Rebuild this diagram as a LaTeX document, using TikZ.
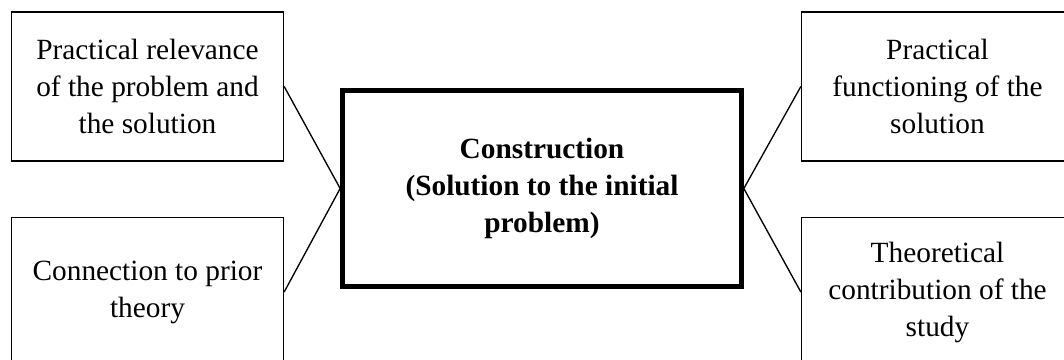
\documentclass[tikz,border=0pt]{standalone}
\usepackage{fontspec}
\setmainfont{Liberation Serif}
\begin{document}
\begin{tikzpicture}[x=0.75pt,y=0.75pt,
    sidebox/.style={draw,line width=1pt,minimum width=204pt,minimum height=111.75pt,align=center,font=\fontsize{22}{27.75}\selectfont},
    mainbox/.style={draw,line width=3.75pt,minimum width=299pt,minimum height=147pt,align=center,font=\fontsize{22}{27.75}\selectfont\bfseries},
    link/.style={line width=1pt}]
        \useasboundingbox (0,0) rectangle (1064,360);

        \node[sidebox] (relevance) at (147.5,273.5) {Practical relevance\\of the problem and\\the solution};
        \node[sidebox] (theory) at (147.5,68) {Connection to prior\\theory};
        \node[mainbox] (construction) at (542,171.5) {Construction\\(Solution to the initial\\problem)};
        \node[sidebox] (functioning) at (937.5,273.5) {Practical\\functioning of the\\solution};
        \node[sidebox] (contribution) at (937.5,68) {Theoretical\\contribution of the\\study};

        \draw[link] (relevance.east) -- (construction.west);
        \draw[link] (theory.east) -- (construction.west);
        \draw[link] (construction.east) -- (functioning.west);
        \draw[link] (construction.east) -- (contribution.west);
\end{tikzpicture}
\end{document}
